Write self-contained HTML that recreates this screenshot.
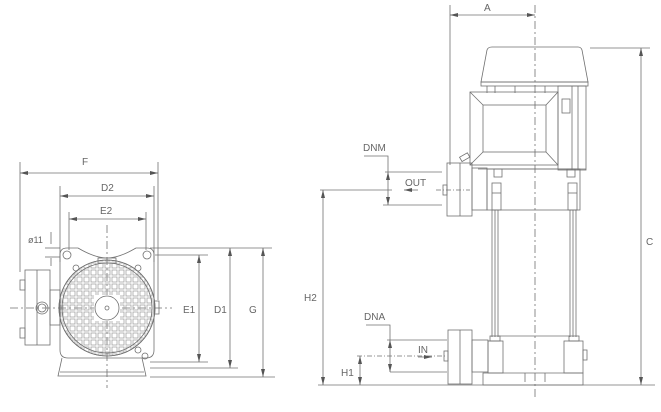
<!DOCTYPE html>
<html><head><style>
html,body{margin:0;padding:0;background:#fff;}
svg{display:block}
text{font-family:"Liberation Sans",sans-serif;font-size:10px;fill:#666;}
</style></head><body>
<svg width="661" height="412" viewBox="0 0 661 412" xmlns="http://www.w3.org/2000/svg">
<defs>
<marker id="a" markerWidth="8" markerHeight="6" refX="8" refY="3" orient="auto" markerUnits="userSpaceOnUse"><path d="M0,1 L8,3 L0,5z" fill="#555"/></marker>
<marker id="b" markerWidth="8" markerHeight="6" refX="0" refY="3" orient="auto" markerUnits="userSpaceOnUse"><path d="M8,1 L0,3 L8,5z" fill="#555"/></marker>
<pattern id="g" x="62" y="262" width="7" height="7" patternUnits="userSpaceOnUse"><rect x="1" y="1" width="5" height="5" fill="none" stroke="#999" stroke-width="0.7"/></pattern>
</defs>
<g stroke="#707070" stroke-width="0.8" fill="none">
<line x1="20" y1="162" x2="20" y2="272"/>
<line x1="158" y1="162" x2="158" y2="300"/>
<line x1="20" y1="173" x2="158" y2="173" marker-start="url(#b)" marker-end="url(#a)"/>
<line x1="60" y1="186" x2="60" y2="262"/>
<line x1="154" y1="186" x2="154" y2="262"/>
<line x1="60" y1="196" x2="154" y2="196" marker-start="url(#b)" marker-end="url(#a)"/>
<line x1="69" y1="212" x2="69" y2="250"/>
<line x1="146" y1="212" x2="146" y2="250"/>
<line x1="69" y1="219" x2="146" y2="219" marker-start="url(#b)" marker-end="url(#a)"/>
<line x1="51" y1="232" x2="51" y2="244"/>
<line x1="51" y1="258" x2="51" y2="266"/>
<line x1="45" y1="248" x2="60" y2="248"/>
<line x1="45" y1="257" x2="60" y2="257"/>
<line x1="150" y1="248" x2="272" y2="248"/>
<line x1="155" y1="255" x2="208" y2="255"/>
<line x1="150" y1="362" x2="208" y2="362"/>
<line x1="150" y1="368" x2="238" y2="368"/>
<line x1="150" y1="377" x2="275" y2="377"/>
<line x1="199" y1="255" x2="199" y2="362" marker-start="url(#b)" marker-end="url(#a)"/>
<line x1="230" y1="248" x2="230" y2="368" marker-start="url(#b)" marker-end="url(#a)"/>
<line x1="263" y1="248" x2="263" y2="377" marker-start="url(#b)" marker-end="url(#a)"/>
<line x1="107" y1="225" x2="107" y2="388" stroke-dasharray="8,3,2,3"/>
<line x1="10" y1="308" x2="172" y2="308" stroke-dasharray="8,3,2,3"/>
<path d="M60,255 Q60,248 67,248 L78,248 Q95,258 107,258 Q119,258 136,248 L147,248 Q154,248 154,255 L154,350 Q154,358 146,358 L68,358 Q60,358 60,350 Z"/>
<circle cx="67" cy="255" r="4"/><circle cx="147" cy="255" r="4"/>
<circle cx="76" cy="268" r="3"/><circle cx="138" cy="268" r="3"/>
<circle cx="138" cy="350" r="3"/><circle cx="145" cy="356" r="3"/>
<rect x="98" y="258" width="18" height="5"/>
<circle cx="107" cy="308" r="48" fill="url(#g)"/>
<circle cx="107" cy="308" r="48"/>
<circle cx="107" cy="308" r="45"/>
<rect x="94" y="295" width="26" height="26" fill="#fff" stroke="none"/>
<circle cx="107" cy="308" r="12" fill="#fff"/>
<circle cx="107" cy="308" r="2"/>
<rect x="154" y="301" width="5" height="13"/>
<path d="M62,358 L58,376 L146,376 L142,358"/>
<line x1="60" y1="372" x2="144" y2="372"/>
<rect x="25" y="270" width="25" height="75"/>
<line x1="37" y1="270" x2="37" y2="345"/>
<rect x="50" y="290" width="10" height="35"/>
<circle cx="42" cy="308" r="6"/><circle cx="42" cy="308" r="4"/>
<rect x="20" y="280" width="5" height="10"/>
<rect x="20" y="328" width="5" height="10"/>

<line x1="450" y1="5" x2="450" y2="165"/>
<line x1="450" y1="15" x2="535" y2="15" marker-start="url(#b)" marker-end="url(#a)"/>
<line x1="535" y1="5" x2="535" y2="400" stroke-dasharray="8,3,2,3"/>
<line x1="590" y1="48" x2="650" y2="48"/>
<line x1="641" y1="48" x2="641" y2="385" marker-start="url(#b)" marker-end="url(#a)"/>
<line x1="318" y1="385" x2="655" y2="385"/>
<line x1="320" y1="190" x2="392" y2="190"/>
<line x1="323" y1="190" x2="323" y2="385" marker-start="url(#b)" marker-end="url(#a)"/>
<polyline points="364,156 388,156 388,172"/>
<line x1="385" y1="172" x2="442" y2="172"/>
<line x1="383" y1="205" x2="442" y2="205"/>
<line x1="388" y1="172" x2="388" y2="205" marker-start="url(#b)" marker-end="url(#a)"/>
<line x1="404" y1="190" x2="418" y2="190" marker-start="url(#b)"/>
<line x1="436" y1="190" x2="470" y2="190" stroke-dasharray="5,2,1,2"/>
<polyline points="366,325 390,325 390,340"/>
<line x1="387" y1="340" x2="447" y2="340"/>
<line x1="390" y1="372" x2="447" y2="372"/>
<line x1="390" y1="340" x2="390" y2="372" marker-start="url(#b)" marker-end="url(#a)"/>
<line x1="357" y1="356" x2="447" y2="356" stroke-dasharray="5,2,1,2"/>
<line x1="418" y1="357" x2="432" y2="357" marker-end="url(#a)"/>
<line x1="360" y1="356" x2="360" y2="385" marker-start="url(#b)" marker-end="url(#a)"/>
<path d="M481,82 L487,50 Q488,47 492,47 L578,47 Q581,47 582,50 L588,82 Z"/>
<rect x="481" y="82" width="107" height="4"/>
<rect x="558" y="86" width="28" height="84"/>
<line x1="572" y1="86" x2="572" y2="170"/><line x1="578" y1="86" x2="578" y2="170"/>
<rect x="562" y="99" width="8" height="14"/>
<line x1="487" y1="86" x2="487" y2="93"/><line x1="495" y1="86" x2="495" y2="93"/><line x1="515" y1="86" x2="515" y2="93"/><line x1="545" y1="86" x2="545" y2="93"/>
<rect x="470" y="92" width="88" height="73"/>
<rect x="483" y="105" width="63" height="47"/>
<line x1="470" y1="92" x2="483" y2="105"/><line x1="558" y1="92" x2="546" y2="105"/>
<line x1="470" y1="165" x2="483" y2="152"/><line x1="558" y1="165" x2="546" y2="152"/>
<rect x="460" y="155" width="9" height="5" transform="rotate(-30 464 157)"/>
<line x1="478" y1="169" x2="586" y2="169"/>
<rect x="487" y="169" width="93" height="41"/>
<rect x="494" y="169" width="8" height="8"/><rect x="567" y="169" width="8" height="8"/>
<rect x="492" y="183" width="9" height="27"/><line x1="492" y1="193" x2="501" y2="193"/>
<rect x="568" y="183" width="9" height="27"/><line x1="568" y1="193" x2="577" y2="193"/>
<rect x="472" y="168" width="15" height="42"/>
<rect x="447" y="163" width="25" height="53"/>
<line x1="460" y1="163" x2="460" y2="216"/>
<rect x="443" y="185" width="4" height="10"/>
<line x1="492" y1="210" x2="492" y2="337"/><line x1="495" y1="210" x2="495" y2="337"/><line x1="498" y1="210" x2="498" y2="337"/>
<line x1="570" y1="210" x2="570" y2="337"/><line x1="573" y1="210" x2="573" y2="337"/><line x1="576" y1="210" x2="576" y2="337"/>
<line x1="498" y1="336" x2="570" y2="336"/>
<rect x="490" y="336" width="10" height="5"/><rect x="569" y="336" width="10" height="5"/>
<rect x="488" y="341" width="15" height="32"/>
<rect x="564" y="341" width="19" height="32"/>
<rect x="583" y="350" width="4" height="10"/>
<rect x="472" y="340" width="16" height="32"/>
<path d="M483,373 L583,373 L583,385 L483,385 Z"/>
<line x1="525" y1="373" x2="525" y2="382"/><line x1="545" y1="373" x2="545" y2="382"/>
<rect x="448" y="330" width="24" height="54"/>
<line x1="460" y1="330" x2="460" y2="384"/>
<rect x="444" y="351" width="4" height="10"/>
</g>
<g>
<text x="82" y="165">F</text>
<text x="101" y="191">D2</text>
<text x="100" y="214">E2</text>
<text x="28" y="243" style="font-size:9px">ø11</text>
<text x="183" y="313">E1</text>
<text x="214" y="313">D1</text>
<text x="249" y="313">G</text>
<text x="484" y="11">A</text>
<text x="646" y="245">C</text>
<text x="304" y="301">H2</text>
<text x="363" y="151">DNM</text>
<text x="405" y="186">OUT</text>
<text x="364" y="320">DNA</text>
<text x="418" y="353">IN</text>
<text x="341" y="376">H1</text>
</g>
</svg>
</body></html>
